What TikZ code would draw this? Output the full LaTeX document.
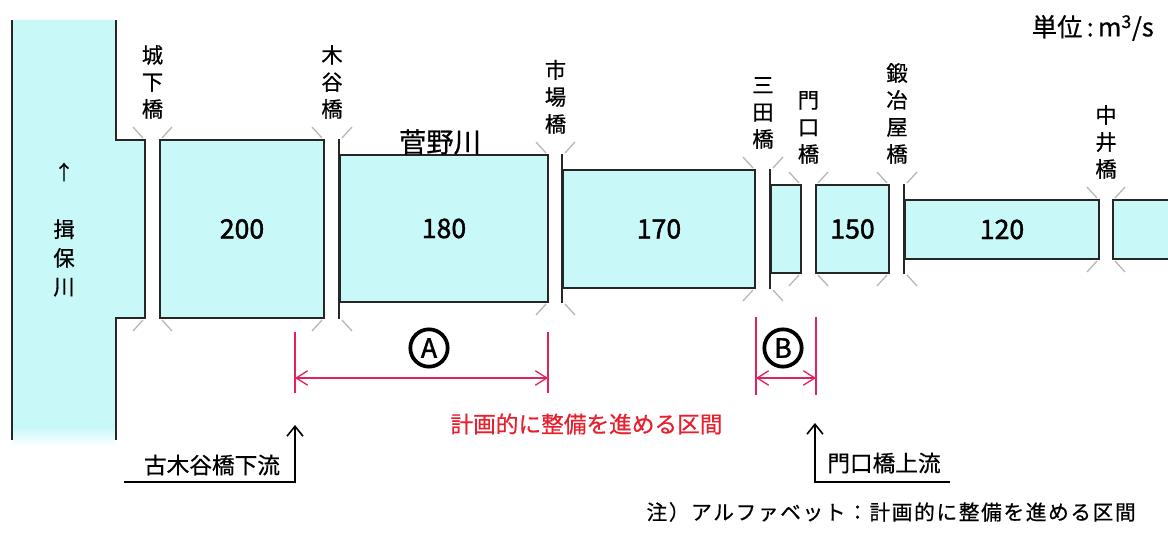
\documentclass[tikz,border=0pt]{standalone}
\usepackage{fontspec}
\setmainfont[FakeBold=0.6]{Noto Sans CJK JP}
\newfontfamily\numfont[FakeBold=1.6]{Noto Sans CJK JP}
\usepackage{xcolor}
\definecolor{rivcyan}{HTML}{C8F8F8}
\definecolor{secred}{HTML}{E0245A}
\definecolor{txtred}{HTML}{E8202E}
\usetikzlibrary{arrows.meta,positioning,calc}
\tikzset{
  reach/.style={draw=black!85, fill=rivcyan, line width=1.2pt, inner sep=0pt,
                font=\numfont\fontsize{20}{20}\selectfont},
  bank/.style={draw=black!85, line width=1.2pt},
  tick/.style={draw=black!28, line width=1pt},
  brl/.style={align=center, font=\fontsize{16}{20.25}\selectfont, inner sep=0pt, anchor=south},
  sec/.style={draw=secred, line width=1pt},
  secar/.style={{Straight Barb[length=3mm,width=3.8mm]}-{Straight Barb[length=3mm,width=3.8mm]},
                draw=secred, line width=1pt},
  ar/.style={-{Straight Barb[length=2.6mm,width=4.2mm]}, draw=black, line width=1.2pt},
  circ/.style={circle, draw, line width=2.8pt, minimum size=28pt, inner sep=0pt,
               font=\numfont\fontsize{20}{20}\selectfont},
  txt/.style={inner sep=0pt, font=\fontsize{17}{17}\selectfont},
}

\begin{document}
\begin{tikzpicture}[x=0.75pt, y=-0.75pt]
  \useasboundingbox (0,0) rectangle (1168,541);

  % Ibo river (main stream)
  \fill[rivcyan] (12,20) -- (116,20) -- (116,140) -- (145,140) -- (145,318)
    -- (116,318) -- (116,428) -- (12,428) -- cycle;
  \shade[top color=rivcyan, bottom color=white] (12,427) rectangle (116,446);
  \draw[bank] (12,20) -- (12,440);
  \draw[bank] (116,20) -- (116,140) -- (145,140) -- (145,318) -- (116,318) -- (116,440);
  \node[txt, font=\fontsize{15}{15}\selectfont] (flow) at (64,172) {↑};
  \node[brl, anchor=center, font=\fontsize{16}{21.5}\selectfont] (ibo) at (64,258) {揖\\保\\川};

  % reaches with design discharge
  \node[reach, minimum width=123pt, minimum height=133.5pt] (r200) at (242,229) {200};
  \node[reach, minimum width=156pt, minimum height=110.25pt] (r180) at (444,228.5) {180};
  \node[reach, minimum width=144pt, minimum height=88.5pt] (r170) at (659,229) {170};
  \node[reach, minimum width=22.5pt, minimum height=66pt] (rsm) at (786,229) {};
  \node[reach, minimum width=54.75pt, minimum height=66pt] (r150) at (852.5,229) {150};
  \node[reach, minimum width=145.5pt, minimum height=44.25pt] (r120) at (1002,229.5) {120};
  \node[reach, minimum width=50.25pt, minimum height=44.25pt] (rend) at (1146.5,229.5) {};

  % downstream bank lines
  \draw[bank] (r180.west |- r200.north) -- (r180.west |- r200.south);
  \draw[bank] (r170.west |- r180.north) -- (r170.west |- r180.south);
  \draw[bank] (rsm.west |- r170.north) -- (rsm.west |- r170.south);
  \draw[bank] (r120.west |- r150.north) -- (r120.west |- r150.south);

  % bridge marks
  \foreach \xl/\xr/\yt/\yb in {145/160/140/318, 324/340/140/318, 548/563/155/302,
      755/771/170/288, 801/816/185/273, 889/905/185/273, 1099/1113/200/259}{
    \draw[tick] (\xl-2,\yt-2) -- ++(-10,-11);
    \draw[tick] (\xr+2,\yt-2) -- ++(10,-11);
    \draw[tick] (\xl-2,\yb+2) -- ++(-10,11);
    \draw[tick] (\xr+2,\yb+2) -- ++(10,11);
  }

  % bridge names
  \node[brl] (shiroshita) at (152.5,119) {城\\下\\橋};
  \node[brl] (kotani) at (332,119) {木\\谷\\橋};
  \node[brl] (ichiba) at (555.5,134) {市\\場\\橋};
  \node[brl] (mita) at (763,149) {三\\田\\橋};
  \node[brl] (kadoguchi) at (808.5,164) {門\\口\\橋};
  \node[brl] (kajiya) at (897,164) {鍛\\冶\\屋\\橋};
  \node[brl] (nakai) at (1106,179) {中\\井\\橋};

  \node[txt, font=\fontsize{20.5}{20.5}\selectfont] (sugano) at (440,142) {菅野川};
  \node[txt, anchor=east, font=\fontsize{19}{19}\selectfont] (unit) at (1154,28)
    {単位\,:\,m\textsuperscript{3}/s};

  % sections A and B
  \coordinate (aLt) at (295,332);  \coordinate (aLb) at (295,393);
  \coordinate (aRt) at (548,332);  \coordinate (aRb) at (548,393);
  \coordinate (bLt) at (756,317);  \coordinate (bLb) at (756,395);
  \coordinate (bRt) at (816,317);  \coordinate (bRb) at (816,395);
  \draw[sec] (aLt) -- (aLb);
  \draw[sec] (aRt) -- (aRb);
  \draw[sec] (bLt) -- (bLb);
  \draw[sec] (bRt) -- (bRb);
  \draw[secar] ($(aLt)!0.754!(aLb)$) -- ($(aRt)!0.754!(aRb)$);
  \draw[secar] ($(bLt)!0.782!(bLb)$) -- ($(bRt)!0.782!(bRb)$);
  \node[circ] (secA) at (429,348) {A};
  \node[circ] (secB) at (783,348) {B};
  \node[txt, text=txtred] (plan) at (586.5,424) {計画的に整備を進める区間};

  % section ends
  \node[txt] (kotanilow) at (212,465) {古木谷橋下流};
  \coordinate (kotip) at (295,425);
  \draw[ar] (124,482) -| (kotip);
  \node[txt] (kadoup) at (884,463) {門口橋上流};
  \coordinate (kdtip) at (815,423);
  \draw[ar] (950,482) -| (kdtip);

  \node[txt, anchor=east, font=\addfontfeatures{LetterSpace=8}\fontsize{15.5}{15.5}\selectfont]
    (note) at (1136,512) {注）アルファベット：計画的に整備を進める区間};
\end{tikzpicture}
\end{document}
